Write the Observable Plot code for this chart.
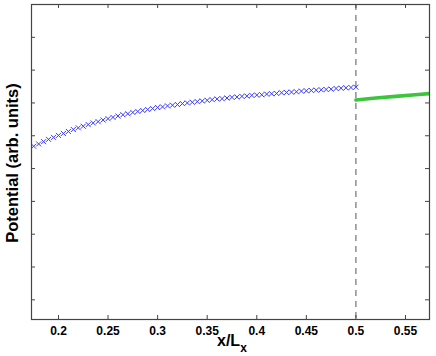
<!DOCTYPE html>
<html>
<head>
<meta charset="utf-8">
<script src="https://cdn.jsdelivr.net/npm/d3@7"></script>
<script src="https://cdn.jsdelivr.net/npm/@observablehq/plot@0.6"></script>
<style>
  html, body { margin: 0; padding: 0; background: #fff; }
  svg { display: block; }
</style>
</head>
<body>
<div id="chart"></div>
<script>
// Left region (blue crosses): x/Lx and potential (arb. units)
const blueX = [0.175,0.18,0.185,0.19,0.195,0.2,0.205,0.21,0.215,0.22,0.225,0.23,0.235,0.24,0.245,0.25,0.255,0.26,0.265,0.27,0.275,0.28,0.285,0.29,0.295,0.3,0.305,0.31,0.315,0.32,0.325,0.33,0.335,0.34,0.345,0.35,0.355,0.36,0.365,0.37,0.375,0.38,0.385,0.39,0.395,0.4,0.405,0.41,0.415,0.42,0.425,0.43,0.435,0.44,0.445,0.45,0.455,0.46,0.465,0.47,0.475,0.48,0.485,0.49,0.495,0.5];
const blueY = [5.68,5.75,5.82,5.89,5.95,6.01,6.07,6.13,6.19,6.24,6.29,6.34,6.39,6.43,6.48,6.52,6.56,6.60,6.64,6.67,6.71,6.74,6.77,6.80,6.83,6.86,6.88,6.91,6.93,6.95,6.98,7.00,7.02,7.04,7.06,7.08,7.10,7.12,7.13,7.15,7.17,7.18,7.20,7.21,7.23,7.24,7.25,7.27,7.28,7.29,7.31,7.32,7.33,7.34,7.36,7.37,7.38,7.39,7.40,7.41,7.42,7.44,7.45,7.46,7.47,7.48];
// Right region (green, densely sampled)
const greenX = [0.5, 0.52, 0.54, 0.56, 0.58];
const greenY = [7.09, 7.15, 7.20, 7.25, 7.30];
// Interface position
const interfaceX = [0.5];
// Ticks
const xTicks = [0.2, 0.25, 0.3, 0.35, 0.4, 0.45, 0.5, 0.55];
const yTicks = [1, 2, 3, 4, 5, 6, 7, 8, 9];

const blue = blueX.map((x, i) => ({x, y: blueY[i]}));
const green = greenX.map((x, i) => ({x, y: greenY[i]}));

const W = 436, H = 356;
const mL = 31, mR = 7, mT = 4, mB = 37;
const iw = W - mL - mR, ih = H - mT - mB;
const tl = 4;
const axisColor = "#444";

const svg = Plot.plot({
  width: W, height: H,
  marginLeft: mL, marginRight: mR, marginTop: mT, marginBottom: mB,
  style: {fontFamily: "'Liberation Sans', Arial, Helvetica, sans-serif", background: "#fff", color: "#000"},
  x: {domain: [0.1728, 0.5742], axis: null},
  y: {domain: [0.4, 10], axis: null},
  marks: [
    Plot.ruleX(interfaceX, {x: d => d, stroke: "#555", strokeWidth: 1, strokeDasharray: "6,5"}),
    Plot.line(green, {x: "x", y: "y", stroke: "#3cc43c", strokeWidth: 3.6, clip: true}),
    Plot.dot(blue, {x: "x", y: "y", symbol: "times", r: 2.4, stroke: "#3a3aff", strokeWidth: 1, clip: true}),
    Plot.tickX(xTicks, {x: d => d, insetTop: ih - tl, stroke: axisColor}),
    Plot.tickX(xTicks, {x: d => d, insetBottom: ih - tl, stroke: axisColor}),
    Plot.tickY(yTicks, {y: d => d, insetRight: iw - tl, stroke: axisColor}),
    Plot.tickY(yTicks, {y: d => d, insetLeft: iw - tl, stroke: axisColor}),
    Plot.frame({stroke: axisColor, strokeWidth: 1.2}),
    Plot.axisX(xTicks, {tickSize: 0, tickPadding: 7, fontSize: 12, fontWeight: "bold", tickFormat: d => String(d), fill: "#000", label: null}),
    Plot.text(["Potential (arb. units)"], {frameAnchor: "left", textAnchor: "middle", rotate: -90, dx: -19, dy: 1, fontSize: 16.5, fontWeight: "bold", fill: "#000"})
  ]
});

const lab = d3.select(svg).append("text")
  .attr("x", 217).attr("y", 346)
  .attr("text-anchor", "start")
  .attr("font-family", "'Liberation Sans', Arial, Helvetica, sans-serif")
  .attr("font-weight", "bold").attr("font-size", 16).attr("fill", "#000");
lab.append("tspan").text("x/L");
lab.append("tspan").attr("font-size", 12).attr("dy", 5.5).text("x");

document.getElementById("chart").appendChild(svg);
</script>
</body>
</html>
